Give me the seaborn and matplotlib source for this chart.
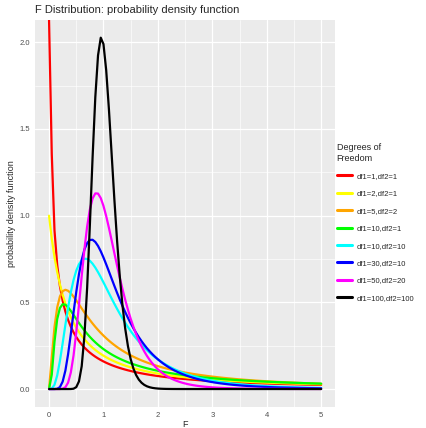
import math
import numpy as np
import pandas as pd
import matplotlib
matplotlib.use("Agg")
import matplotlib.pyplot as plt
import seaborn as sns
from matplotlib.ticker import MultipleLocator

# degrees of freedom pairs, as listed in the legend
df1 = [1, 2, 5, 10, 10, 30, 50, 100]
df2 = [1, 1, 2, 1, 10, 10, 20, 100]
line_colors = ["red", "yellow", "orange", "#00FF00", "cyan", "blue", "magenta", "black"]
labels = [f"df1={a},df2={b}" for a, b in zip(df1, df2)]

x_min, x_max, n_points = 0, 5, 101


def f_pdf(x, d1, d2):
    # density of the F distribution, evaluated point by point
    log_b = math.lgamma(d1 / 2) + math.lgamma(d2 / 2) - math.lgamma((d1 + d2) / 2)
    out = []
    for v in x:
        if v == 0:
            if d1 < 2:
                out.append(np.inf)
            elif d1 == 2:
                out.append(math.exp(-log_b) * (d1 / d2) ** (d1 / 2))
            else:
                out.append(0.0)
            continue
        lp = ((d1 / 2) * math.log(d1 / d2) + (d1 / 2 - 1) * math.log(v)
              - ((d1 + d2) / 2) * math.log1p(d1 * v / d2) - log_b)
        out.append(math.exp(lp))
    return np.array(out)


xs = np.linspace(x_min, x_max, n_points)
frames = []
for a, b, lab in zip(df1, df2, labels):
    frames.append(pd.DataFrame({"F": xs, "density": f_pdf(xs, a, b), "dof": lab}))
data = pd.concat(frames, ignore_index=True)

# ggplot-like limits: 5% expansion on finite data, Inf drawn at the panel edge
finite = data.loc[np.isfinite(data["density"]), "density"]
y_lo = finite.min() - 0.05 * (finite.max() - finite.min())
y_hi = finite.max() + 0.05 * (finite.max() - finite.min())
data.loc[~np.isfinite(data["density"]), "density"] = y_hi

sns.set_theme(style="darkgrid", rc={
    "axes.facecolor": "#EBEBEB",
    "grid.color": "white",
    "axes.edgecolor": "#EBEBEB",
})
plt.rcParams["font.family"] = ["Liberation Sans", "DejaVu Sans"]

fig = plt.figure(figsize=(4.27, 4.28), dpi=100)
ax = fig.add_axes([0.083, 0.05, 0.701, 0.903])

sns.lineplot(data=data, x="F", y="density", hue="dof", hue_order=labels,
             palette=dict(zip(labels, line_colors)), linewidth=1.6, ax=ax,
             legend=True)

ax.set_xlim(x_min - 0.05 * (x_max - x_min), x_max + 0.05 * (x_max - x_min))
ax.set_ylim(y_lo, y_hi)
ax.xaxis.set_major_locator(MultipleLocator(1))
ax.xaxis.set_minor_locator(MultipleLocator(0.5))
ax.yaxis.set_major_locator(MultipleLocator(0.5))
ax.yaxis.set_minor_locator(MultipleLocator(0.25))
ax.grid(which="major", color="white", linewidth=0.9)
ax.grid(which="minor", color="white", linewidth=0.45)
ax.set_axisbelow(True)
for s in ax.spines.values():
    s.set_visible(False)

ax.tick_params(which="major", length=2.2, width=0.6, color="#333333",
               labelsize=5.5, labelcolor="#4D4D4D", pad=1.5)
ax.tick_params(which="minor", length=0)
ax.set_xlabel("F", fontsize=6.5, labelpad=1)
ax.set_ylabel("probability density function", fontsize=6.5, labelpad=3)
ax.set_title("F Distribution: probability density function", loc="left",
             fontsize=8, pad=5)

handles, labs = ax.get_legend_handles_labels()
ax.legend_.remove()
leg = fig.legend(handles, labs, title="Degrees of\nFreedom", loc="upper left",
                 bbox_to_anchor=(0.781, 0.672), frameon=False, fontsize=5.5,
                 title_fontsize=6.5, handlelength=1.96, labelspacing=1.32,
                 handletextpad=0.65, borderaxespad=0)
leg._legend_box.align = "left"
leg._legend_box.sep = 7
for h in leg.get_lines():
    h.set_linewidth(2.2)

fig.savefig("out.png", dpi=100)
